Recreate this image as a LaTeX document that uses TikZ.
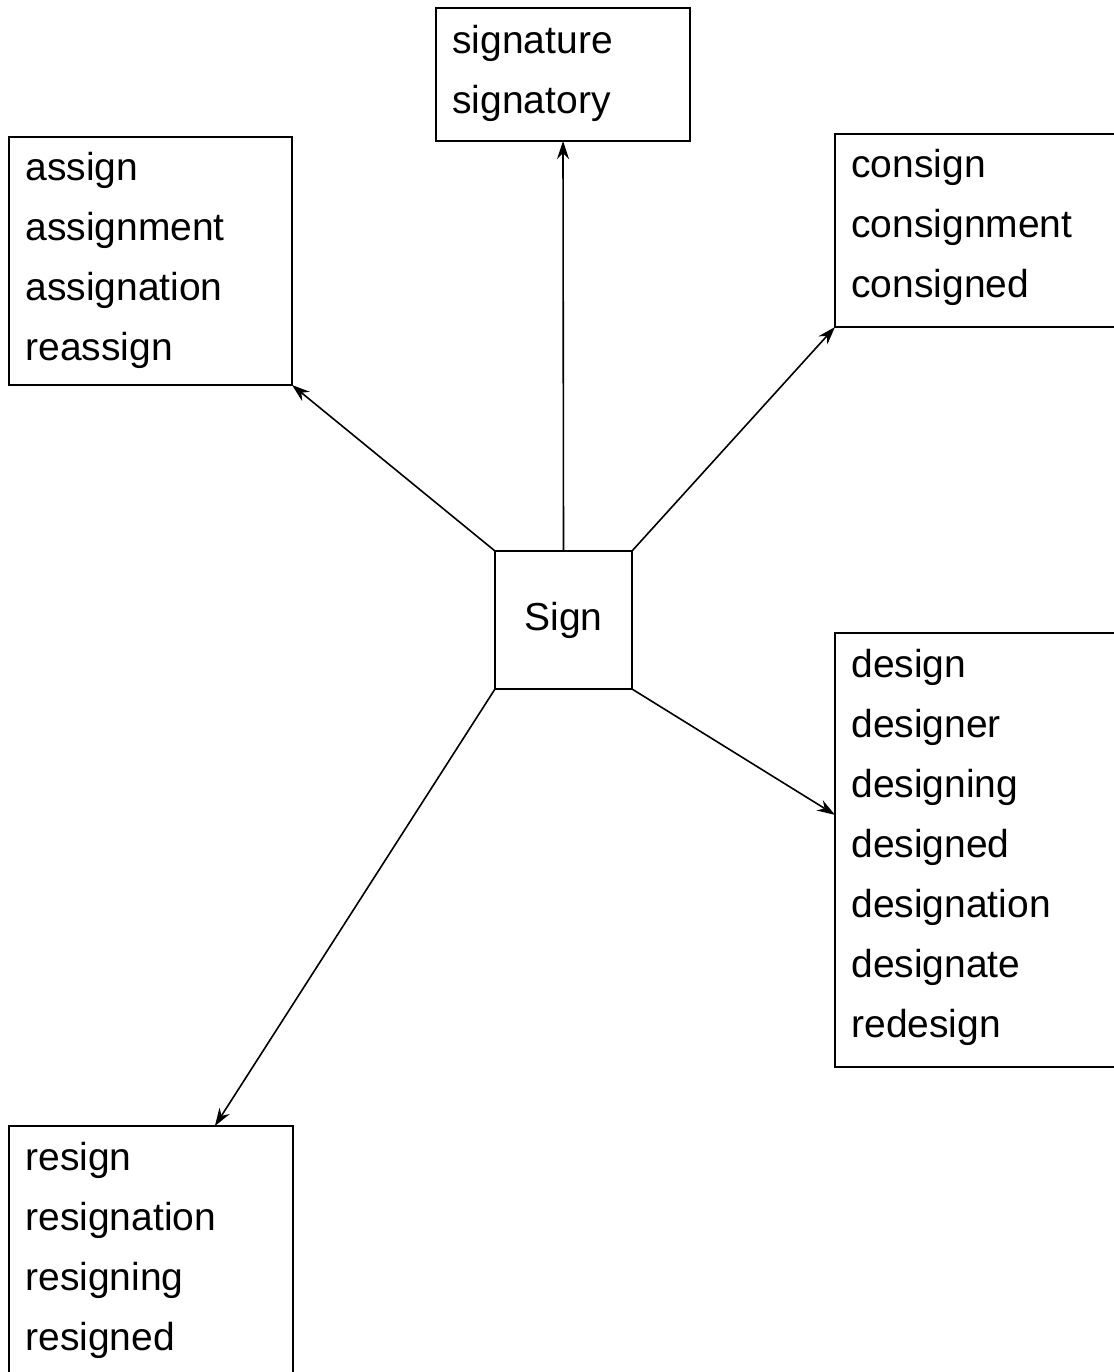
\documentclass[tikz,border=0pt]{standalone}
\usepackage{fontspec}
\setmainfont{Liberation Sans}
\usetikzlibrary{arrows.meta,calc}
\begin{document}
\begin{tikzpicture}[x=0.5pt,y=-0.5pt,
  box/.style={draw,line width=1pt,rectangle,inner sep=0pt,outer sep=0pt},
  word/.style={anchor=base west,inner sep=0pt,font=\fontsize{19.5}{24}\selectfont},
  link/.style={line width=0.8pt,-{Stealth[length=9pt,width=6pt]}}]
\useasboundingbox (0,0) rectangle (1114,1372);
\clip (0,0) rectangle (1114,1372);
\fill[white] (0,0) rectangle (1114,1372);
% boxes
\node[box,minimum width=127pt,minimum height=66.5pt] (sig) at (563,74.5) {};
\node[box,minimum width=141.5pt,minimum height=124pt] (asg) at (150.5,261) {};
\node[box,minimum width=147.5pt,minimum height=96.5pt] (con) at (982.5,230.5) {};
\node[box,minimum width=68.5pt,minimum height=69pt,font=\fontsize{19.5}{24}\selectfont] (sign) at (563.5,620) {Sign};
\node[box,minimum width=147.5pt,minimum height=217pt] (des) at (982.5,850) {};
\node[box,minimum width=142pt,minimum height=137pt] (res) at (151,1263) {};
% words
\node[word] (w1) at (452,53) {signature};
\node[word] (w2) at (452,113) {signatory};
\node[word] (a1) at (25,180) {assign};
\node[word] (a2) at (25,240) {assignment};
\node[word] (a3) at (25,300) {assignation};
\node[word] (a4) at (25,360) {reassign};
\node[word] (c1) at (851,177) {consign};
\node[word] (c2) at (851,237) {consignment};
\node[word] (c3) at (851,297) {consigned};
\node[word] (d1) at (851,677) {design};
\node[word] (d2) at (851,737) {designer};
\node[word] (d3) at (851,797) {designing};
\node[word] (d4) at (851,857) {designed};
\node[word] (d5) at (851,917) {designation};
\node[word] (d6) at (851,977) {designate};
\node[word] (d7) at (851,1037) {redesign};
\node[word] (r1) at (25,1170) {resign};
\node[word] (r2) at (25,1230) {resignation};
\node[word] (r3) at (25,1290) {resigning};
\node[word] (r4) at (25,1350) {resigned};
% connectors
\draw[link] (sign.north) -- (sig.south);
\draw[link] (sign.north west) -- (asg.south east);
\draw[link] (sign.north east) -- (con.south west);
\draw[link] (sign.south east) -- ($(des.north west)!0.419!(des.south west)$);
\draw[link] (sign.south west) -- ($(res.north west)!0.725!(res.north east)$);
\end{tikzpicture}
\end{document}
